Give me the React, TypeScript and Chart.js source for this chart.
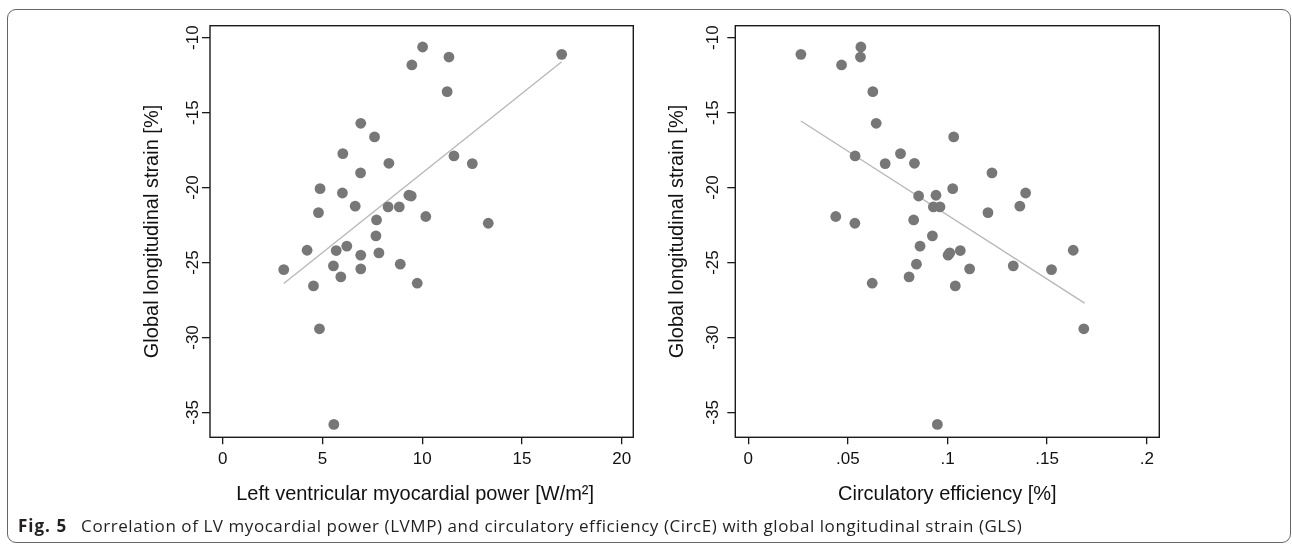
import React, { useEffect, useRef } from 'react';
import { Chart, registerables } from 'chart.js';

Chart.register(...registerables);

// Global longitudinal strain [%] per patient (shared by both panels)
const gls = [
  -25.47, -24.18, -26.56, -20.07, -21.67, -29.42, -35.8, -25.22, -24.2, -25.96,
  -17.73, -20.36, -23.91, -21.24, -15.71, -19.02, -24.51, -25.42, -16.62, -22.16,
  -23.22, -24.36, -18.38, -21.29, -21.29, -25.11, -20.51, -20.56, -11.82, -26.38,
  -10.62, -21.93, -13.6, -11.29, -17.89, -18.4, -22.38, -11.11,
];

// Left ventricular myocardial power [W/m2]
const lvmp = [
  3.06, 4.23, 4.55, 4.88, 4.8, 4.85, 5.57, 5.55, 5.69, 5.92,
  6.02, 6.0, 6.22, 6.64, 6.92, 6.91, 6.92, 6.92, 7.61, 7.71,
  7.68, 7.83, 8.33, 8.29, 8.85, 8.9, 9.33, 9.45, 9.48, 9.75,
  10.02, 10.18, 11.25, 11.34, 11.59, 12.51, 13.31, 16.99,
];

// Circulatory efficiency [%]
const circE = [
  0.1522, 0.1631, 0.1039, 0.1026, 0.1203, 0.1684, 0.0949, 0.133, 0.1064, 0.0807,
  0.0764, 0.1392, 0.0862, 0.1363, 0.0642, 0.1223, 0.1003, 0.1111, 0.1031, 0.083,
  0.0924, 0.1011, 0.0834, 0.0929, 0.0962, 0.0844, 0.0942, 0.0855, 0.0468, 0.0622,
  0.0565, 0.0439, 0.0625, 0.0563, 0.0536, 0.0687, 0.0535, 0.0264,
];

// Fitted lines (end points)
const fitLvmpX = [3.06, 16.99];
const fitLvmpY = [-26.4, -11.6];
const fitCircX = [0.0264, 0.1688];
const fitCircY = [-15.56, -27.71];

// Axis ticks
const glsTicks = [-35, -30, -25, -20, -15, -10];
const glsTickLabels = ['-35', '-30', '-25', '-20', '-15', '-10'];
const lvmpTicks = [0, 5, 10, 15, 20];
const lvmpTickLabels = ['0', '5', '10', '15', '20'];
const circTicks = [0, 0.05, 0.1, 0.15, 0.2];
const circTickLabels = ['0', '.05', '.1', '.15', '.2'];

const yTitle = 'Global longitudinal strain [%]';
const lvmpTitle = 'Left ventricular myocardial power [W/m²]';
const circTitle = 'Circulatory efficiency [%]';
const captionBold = 'Fig. 5';
const captionText =
  'Correlation of LV myocardial power (LVMP) and circulatory efficiency (CircE) with global longitudinal strain (GLS)';

const H = 545;
const FONT = '"Liberation Sans", Arial, Helvetica, sans-serif';

const textPlugin = {
  id: 'stataText',
  afterDraw(chart: any, _args: any, o: any) {
    const { ctx, chartArea: ca } = chart;
    const x = chart.scales.x;
    const y = chart.scales.y;
    ctx.save();
    ctx.strokeStyle = '#1a1a1a';
    ctx.lineWidth = 1.4;
    ctx.strokeRect(ca.left, ca.top, ca.right - ca.left, ca.bottom - ca.top);

    ctx.fillStyle = '#111';
    ctx.font = `17px ${FONT}`;
    ctx.textAlign = 'center';
    ctx.textBaseline = 'alphabetic';
    x.ticks.forEach((t: any, i: number) => {
      ctx.fillText(o.xLabels[i], x.getPixelForValue(t.value), o.xLabelBaseline);
    });
    y.ticks.forEach((t: any, i: number) => {
      ctx.save();
      ctx.translate(ca.left - o.yLabelGap, y.getPixelForValue(t.value));
      ctx.rotate(-Math.PI / 2);
      ctx.fillText(o.yLabels[i], 0, 0);
      ctx.restore();
    });

    ctx.font = `20px ${FONT}`;
    ctx.fillText(o.xTitle, (ca.left + ca.right) / 2 + o.xTitleShift, o.xTitleBaseline);
    ctx.save();
    ctx.translate(ca.left - o.yTitleGap, (ca.top + ca.bottom) / 2);
    ctx.rotate(-Math.PI / 2);
    ctx.fillText(o.yTitle, 0, 0);
    ctx.restore();
    ctx.restore();
  },
};

type PanelProps = {
  left: number;
  width: number;
  areaLeft: number;
  areaRight: number;
  areaTop: number;
  areaBottom: number;
  xs: number[];
  fitX: number[];
  fitY: number[];
  xMin: number;
  xMax: number;
  xTicks: number[];
  xLabels: string[];
  xTitle: string;
  xTitleShift: number;
  yLabelGap: number;
};

function Panel(p: PanelProps) {
  const ref = useRef<HTMLCanvasElement | null>(null);
  useEffect(() => {
    if (!ref.current) return;
    const pts = p.xs.map((v, i) => ({ x: v, y: gls[i] }));
    const fit = p.fitX.map((v, i) => ({ x: v, y: p.fitY[i] }));
    const yTickVals = glsTicks;
    const chart = new Chart(ref.current, {
      type: 'scatter',
      data: {
        datasets: [
          {
            data: pts,
            backgroundColor: '#777777',
            borderWidth: 0,
            pointRadius: 5.4,
            pointHoverRadius: 5.4,
            order: 0,
          },
          {
            data: fit,
            showLine: true,
            borderColor: '#b8b8b8',
            borderWidth: 1.4,
            pointRadius: 0,
            pointHoverRadius: 0,
            fill: false,
            order: 1,
          } as any,
        ],
      },
      options: {
        responsive: false,
        maintainAspectRatio: false,
        animation: false,
        events: [],
        devicePixelRatio: 1,
        layout: {
          padding: { left: 0, top: p.areaTop, right: p.width - p.areaRight, bottom: 0 },
        },
        plugins: {
          legend: { display: false },
          tooltip: { enabled: false },
          stataText: {
            xLabels: p.xLabels,
            yLabels: glsTickLabels,
            xLabelBaseline: 464,
            yLabelGap: p.yLabelGap,
            xTitle: p.xTitle,
            xTitleShift: p.xTitleShift,
            xTitleBaseline: 499.5,
            yTitle: yTitle,
            yTitleGap: 52,
          },
        } as any,
        scales: {
          x: {
            type: 'linear',
            min: p.xMin,
            max: p.xMax,
            afterBuildTicks: (s: any) => {
              s.ticks = p.xTicks.map((v) => ({ value: v }));
            },
            afterFit: (s: any) => {
              s.height = H - p.areaBottom;
            },
            grid: {
              display: true,
              drawOnChartArea: false,
              drawTicks: true,
              tickLength: 7,
              color: '#1a1a1a',
              lineWidth: 1.3,
            },
            border: { display: false },
            ticks: { display: false },
          },
          y: {
            type: 'linear',
            min: -36.66,
            max: -9.2,
            afterBuildTicks: (s: any) => {
              s.ticks = yTickVals.map((v) => ({ value: v }));
            },
            afterFit: (s: any) => {
              s.width = p.areaLeft;
            },
            grid: {
              display: true,
              drawOnChartArea: false,
              drawTicks: true,
              tickLength: 8,
              color: '#1a1a1a',
              lineWidth: 1.3,
            },
            border: { display: false },
            ticks: { display: false },
          },
        },
      },
      plugins: [textPlugin],
    });
    return () => chart.destroy();
  }, []);
  return (
    <canvas
      ref={ref}
      width={p.width}
      height={H}
      style={{ position: 'absolute', left: p.left, top: 0, width: p.width, height: H }}
    />
  );
}

export default function App() {
  return (
    <div
      style={{
        position: 'absolute',
        left: 0,
        top: 0,
        width: 1292,
        height: H,
        background: '#fff',
        overflow: 'hidden',
      }}
    >
      <div
        style={{
          position: 'absolute',
          left: 7,
          top: 9,
          width: 1284,
          height: 534,
          boxSizing: 'border-box',
          border: '1.5px solid #666',
          borderRadius: 9,
        }}
      />
      <Panel
        left={0}
        width={646}
        areaLeft={210}
        areaRight={633.3}
        areaTop={25.7}
        areaBottom={437.3}
        xs={lvmp}
        fitX={fitLvmpX}
        fitY={fitLvmpY}
        xMin={-0.637}
        xMax={20.58}
        xTicks={lvmpTicks}
        xLabels={lvmpTickLabels}
        xTitle={lvmpTitle}
        xTitleShift={-6.5}
        yLabelGap={12.3}
      />
      <Panel
        left={646}
        width={646}
        areaLeft={89.3}
        areaRight={513.3}
        areaTop={25.7}
        areaBottom={437.3}
        xs={circE}
        fitX={fitCircX}
        fitY={fitCircY}
        xMin={-0.00653}
        xMax={0.2063}
        xTicks={circTicks}
        xLabels={circTickLabels}
        xTitle={circTitle}
        xTitleShift={0}
        yLabelGap={17.6}
      />
      <div
        style={{
          position: 'absolute',
          left: 18,
          top: 515,
          fontFamily: '"Open Sans", "Noto Sans", sans-serif',
          fontSize: 17,
          letterSpacing: '0.56px',
          lineHeight: '22px',
          color: '#231f20',
          whiteSpace: 'nowrap',
        }}
      >
        <b style={{ letterSpacing: '1px' }}>{captionBold}</b>
        <span style={{ marginLeft: 14 }}>{captionText}</span>
      </div>
    </div>
  );
}
